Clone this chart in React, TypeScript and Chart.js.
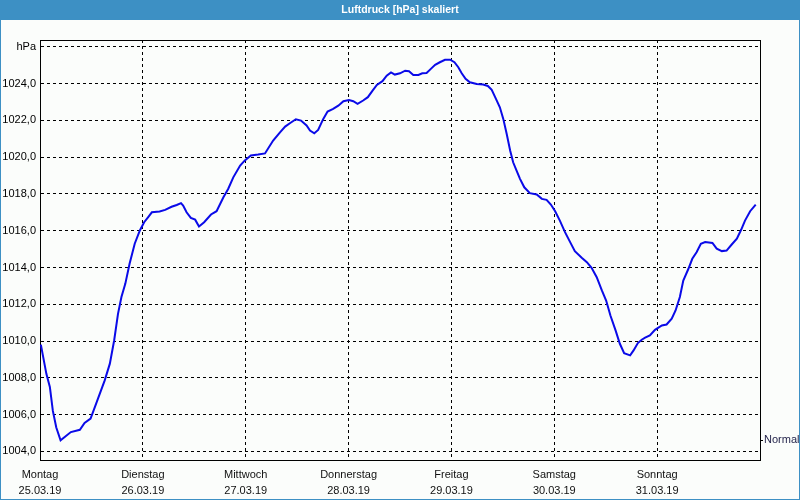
import React, { useEffect, useRef } from "react";
import { Chart, registerables } from "chart.js";

Chart.register(...registerables);

const titleText = "Luftdruck [hPa] skaliert";

const hours = [
  0.2, 1.5, 2.3, 3.0, 3.8, 4.8, 7.2, 9.3, 10.4, 11.8, 13.1, 15.1, 16.3, 17.3, 18.2, 19.0, 19.9, 20.9, 22.1, 23.3,
  24.3, 25.2, 26.1, 27.9, 29.2, 30.7, 31.9, 32.9, 33.4, 34.2, 35.2, 36.2, 37.1, 38.3, 39.9, 41.2, 42.8, 43.9, 45.1,
  46.7, 47.8, 49.2, 50.9, 52.5, 54.4, 56.0, 57.2, 58.3, 59.7, 60.9, 62.2, 63.0, 64.0, 64.9, 66.1, 67.1, 68.4, 69.6,
  70.8, 72.1, 73.1, 74.1, 75.4, 76.5, 77.6, 78.6, 79.9, 80.9, 81.9, 82.8, 84.0, 85.2, 86.1, 87.1, 88.3, 89.2, 90.2,
  91.2, 92.2, 93.3, 94.5, 95.7, 96.7, 97.6, 98.4, 99.3, 100.3, 101.9, 103.4, 104.5, 105.4, 106.2, 107.3, 108.1,
  108.9, 109.7, 110.4, 111.2, 112.0, 113.0, 114.3, 115.9, 117.1, 118.2, 119.2, 120.2, 121.3, 122.5, 123.7, 124.8,
  126.4, 127.6, 128.7, 129.9, 131.1, 132.1, 133.1, 134.3, 135.3, 136.3, 137.7, 138.5, 139.5, 140.4, 141.2, 142.3,
  143.5, 145.1, 146.2, 147.4, 148.3, 149.3, 150.1, 151.3, 152.2, 153.2, 154.2, 155.2, 156.9, 157.9, 159.1, 160.2,
  161.4, 162.6, 163.6, 164.5, 165.7, 167.0,
];

const pressure = [
  1009.8, 1008.2, 1007.5, 1006.2, 1005.3, 1004.6, 1005.05, 1005.17, 1005.54, 1005.78, 1006.6, 1007.86, 1008.77,
  1010.03, 1011.48, 1012.39, 1013.11, 1014.2, 1015.29, 1016.01, 1016.46, 1016.73, 1017.0, 1017.04, 1017.13, 1017.3,
  1017.4, 1017.5, 1017.37, 1017.0, 1016.7, 1016.6, 1016.23, 1016.46, 1016.88, 1017.06, 1017.82, 1018.27, 1018.9,
  1019.54, 1019.82, 1020.09, 1020.14, 1020.2, 1020.9, 1021.35, 1021.66, 1021.84, 1022.06, 1021.99, 1021.72, 1021.45,
  1021.3, 1021.48, 1022.08, 1022.48, 1022.62, 1022.8, 1023.04, 1023.11, 1023.04, 1022.9, 1023.08, 1023.26, 1023.62,
  1023.93, 1024.13, 1024.43, 1024.61, 1024.49, 1024.56, 1024.7, 1024.67, 1024.47, 1024.47, 1024.56, 1024.58, 1024.8,
  1025.02, 1025.16, 1025.29, 1025.3, 1025.16, 1024.89, 1024.56, 1024.26, 1024.07, 1023.98, 1023.95, 1023.87,
  1023.66, 1023.26, 1022.71, 1022.08, 1021.26, 1020.36, 1019.72, 1019.27, 1018.82, 1018.36, 1018.04, 1017.97,
  1017.73, 1017.68, 1017.42, 1017.06, 1016.55, 1015.92, 1015.38, 1014.89, 1014.53, 1014.29, 1013.98, 1013.47,
  1012.75, 1012.2, 1011.39, 1010.58, 1009.85, 1009.34, 1009.22, 1009.49, 1009.89, 1010.07, 1010.18, 1010.3, 1010.61,
  1010.85, 1010.9, 1011.21, 1011.66, 1012.39, 1013.29, 1013.93, 1014.47, 1014.83, 1015.29, 1015.38, 1015.33,
  1015.02, 1014.89, 1014.92, 1015.25, 1015.56, 1016.05, 1016.55, 1017.06, 1017.42,
];

const dayNames = ["Montag", "Dienstag", "Mittwoch", "Donnerstag", "Freitag", "Samstag", "Sonntag"];
const dayDates = ["25.03.19", "26.03.19", "27.03.19", "28.03.19", "29.03.19", "30.03.19", "31.03.19"];
const dayHours = [0, 24, 48, 72, 96, 120, 144];

const yTickValues = [1004, 1006, 1008, 1010, 1012, 1014, 1016, 1018, 1020, 1022, 1024, 1026];
const yTickLabels = ["1004,0", "1006,0", "1008,0", "1010,0", "1012,0", "1014,0", "1016,0", "1018,0", "1020,0", "1022,0", "1024,0", "hPa"];

const normalValue = [1004.6];
const normalLabel = ["Normal"];

const Y_MIN = 1003.53;
const Y_MAX = 1026.37;
const X_MIN = 0;
const X_MAX = 168;

const BLUE = "#3d90c4";

const framePlugin = {
  id: "frameAndBg",
  beforeDraw(chart: any) {
    const { ctx, width, height } = chart;
    ctx.save();
    ctx.fillStyle = "#fbfdfb";
    ctx.fillRect(0, 0, width, height);
    ctx.fillStyle = BLUE;
    ctx.fillRect(0, 0, width, 20);
    ctx.fillRect(0, 0, 1, height);
    ctx.fillRect(width - 1, 0, 1, height);
    ctx.fillRect(0, height - 1, width, 1);
    ctx.restore();
  },
  beforeDatasetsDraw(chart: any) {
    const { ctx, chartArea } = chart;
    const l = Math.round(chartArea.left);
    const t = Math.round(chartArea.top);
    const r = Math.round(chartArea.right);
    const b = Math.round(chartArea.bottom);
    ctx.save();
    ctx.strokeStyle = "#000";
    ctx.lineWidth = 1;
    ctx.setLineDash([]);
    ctx.strokeRect(l + 0.5, t + 0.5, r - l, b - t);
    ctx.restore();
  },
};

export default function App() {
  const ref = useRef<HTMLCanvasElement | null>(null);

  useEffect(() => {
    document.body.style.margin = "0";
    const canvas = ref.current;
    if (!canvas) return;
    Chart.defaults.font.family = "'Liberation Sans', Arial, sans-serif";
    Chart.defaults.font.size = 11;
    const chart = new Chart(canvas, {
      type: "line",
      data: {
        datasets: [
          {
            label: titleText,
            data: hours.map((h, i) => ({ x: h, y: pressure[i] })),
            borderColor: "#0a0ae8",
            borderWidth: 2,
            pointRadius: 0,
            tension: 0,
            fill: false,
            yAxisID: "y",
          },
        ],
      },
      options: {
        animation: false,
        responsive: false,
        layout: { padding: 0 },
        plugins: {
          legend: { display: false },
          tooltip: { enabled: false },
          title: {
            display: true,
            text: titleText,
            color: "#ffffff",
            font: { weight: "bold", size: 10.5, family: "'Liberation Sans', Arial, sans-serif" },
            padding: { top: 4, bottom: 23.4 },
          },
        },
        scales: {
          x: {
            type: "linear",
            min: X_MIN,
            max: X_MAX,
            afterBuildTicks: (scale: any) => {
              scale.ticks = dayHours.map((v) => ({ value: v }));
            },
            afterFit: (scale: any) => {
              scale.height = 40;
            },
            ticks: {
              autoSkip: false,
              maxRotation: 0,
              padding: 7,
              color: "#111",
              font: { size: 11, lineHeight: 1.45 },
              callback: (_v: any, i: number) => [dayNames[i], dayDates[i]],
            },
            grid: { color: "#000", drawTicks: false, lineWidth: 1 },
            border: { display: true, color: "#000", dash: [3, 3] },
          },
          y: {
            type: "linear",
            position: "left",
            min: Y_MIN,
            max: Y_MAX,
            afterBuildTicks: (scale: any) => {
              scale.ticks = yTickValues.map((v) => ({ value: v }));
            },
            afterFit: (scale: any) => {
              scale.width = 40;
            },
            ticks: {
              padding: 4,
              color: "#000",
              font: { size: 11 },
              callback: (_v: any, i: number) => yTickLabels[i],
            },
            grid: { color: "#000", drawTicks: false, lineWidth: 1 },
            border: { display: true, color: "#000", dash: [3, 3] },
          },
          y2: {
            type: "linear",
            position: "right",
            min: Y_MIN,
            max: Y_MAX,
            afterBuildTicks: (scale: any) => {
              scale.ticks = normalValue.map((v) => ({ value: v }));
            },
            afterFit: (scale: any) => {
              scale.width = 40;
            },
            ticks: {
              padding: 1,
              color: "#26264d",
              font: { size: 11 },
              callback: (_v: any, i: number) => normalLabel[i],
            },
            grid: { drawOnChartArea: false, drawTicks: true, tickLength: 3, color: "#000" },
            border: { display: false },
          },
        },
      },
      plugins: [framePlugin],
    } as any);
    return () => chart.destroy();
  }, []);

  return (
    <div style={{ width: 800, height: 500 }}>
      <canvas ref={ref} width={800} height={500} style={{ display: "block", width: 800, height: 500 }} />
    </div>
  );
}
